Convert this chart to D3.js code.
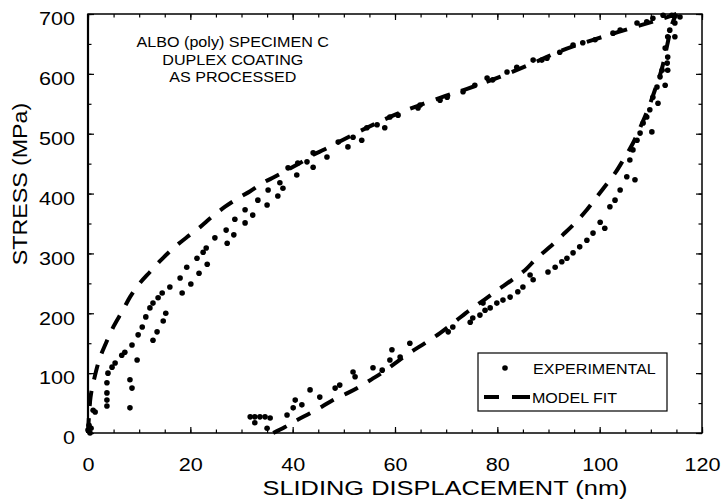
<!DOCTYPE html>
<html>
<head>
<meta charset="utf-8">
<script src="https://cdnjs.cloudflare.com/ajax/libs/d3/7.8.5/d3.min.js"></script>
<style>
  body { margin: 0; background: #fff; }
  svg { display: block; font-family: "Liberation Sans", Arial, sans-serif; }
</style>
</head>
<body>
<svg width="721" height="499"></svg>
<script>
// experimental points [displacement nm, stress MPa], loading branch
let expLoading = [
  [0, 5], [0.2, 13], [0.4, 0], [0.6, 8], [1.0, 38], [1.4, 35],
  [3.7, 84], [3.7, 67], [3.7, 55], [3.7, 45], [3.9, 100], [4.7, 110], [5.3, 117],
  [6.6, 130], [7.2, 135], [8.6, 147], [9.8, 164], [10.6, 177], [11.3, 194],
  [12.1, 209], [12.7, 217], [13.7, 226], [14.5, 234], [16.0, 244], [18.0, 259],
  [19.3, 277], [21.3, 292], [22.5, 302], [23.1, 309], [24.8, 326], [27.0, 339],
  [28.7, 357], [30.7, 373], [33.2, 389], [35.2, 406], [37.5, 418], [39.1, 443],
  [41.0, 451], [44.0, 468], [48.9, 486], [51.8, 494], [54.5, 510], [56.5, 515],
  [59.0, 528], [60.6, 531], [64.5, 543], [68.8, 556], [70.2, 561], [73.3, 570],
  [75.6, 581], [78.0, 593], [81.9, 603], [83.8, 611], [87.0, 623], [89.7, 626],
  [92.2, 636], [94.8, 648], [96.7, 652], [99.1, 657], [102.6, 668], [104.0, 673],
  [107.3, 685], [109.2, 687], [110.4, 693], [112.4, 698], [114.1, 698], [115.7, 695],
  // second (lower) row of the loading points
  [8.2, 89], [8.6, 75], [8.2, 42], [9.6, 122], [12.7, 155], [13.5, 169], [14.7, 187],
  [15.2, 200], [18.4, 234], [20.1, 249], [21.7, 267], [23.3, 282], [27.2, 317],
  [28.5, 331], [30.7, 351], [32.2, 364], [35.0, 381], [37.1, 396], [38.1, 409],
  [40.8, 431], [42.8, 453], [44.0, 444], [46.7, 461], [50.8, 478], [53.5, 489],
  [58.0, 510], [64.9, 548], [79.1, 590], [88.7, 623]
];

// experimental points, unloading branch
let expUnloading = [
  [114.7, 685], [113.7, 673], [113.3, 662], [114.7, 662], [112.8, 643], [113.3, 628],
  [113.2, 618], [112.2, 606], [113.3, 606], [111.8, 595], [111.2, 578], [112.8, 581],
  [110.4, 561], [111.4, 551], [109.8, 540], [109.2, 528], [110.2, 503], [108.5, 518],
  [107.9, 501], [107.3, 489], [106.5, 473], [105.9, 456], [106.9, 423], [105.3, 428],
  [104.0, 406], [103.0, 389], [102.0, 378], [101.0, 342], [100.1, 352], [98.7, 334],
  [97.5, 322], [96.1, 311], [94.8, 301], [93.6, 292], [92.6, 286], [91.3, 277],
  [89.9, 269], [87.0, 256], [86.4, 264], [85.0, 244], [84.0, 236], [82.5, 227],
  [81.1, 222], [79.9, 217], [78.6, 209], [77.6, 205], [77.2, 217], [76.6, 197],
  [75.2, 192], [74.7, 185], [71.3, 177], [70.4, 169], [62.9, 150], [61.0, 127],
  [59.4, 139], [59.0, 122], [57.5, 105], [55.7, 109], [51.8, 102], [52.2, 94],
  [49.2, 80], [48.3, 75], [45.3, 60], [43.4, 72], [41.8, 47], [40.5, 55],
  [40.1, 42], [38.9, 30], [35.0, 8],
  [31.7, 27], [32.6, 27], [33.6, 27], [34.6, 27], [35.6, 25], [32.6, 17]
];

// model fit curves
let fitLoading = [
  [0, 0], [0.5, 60], [1.2, 90], [2.3, 125], [3.5, 150], [5.0, 178], [6.8, 205],
  [8.2, 227], [9.8, 247], [12.1, 269], [14.5, 291], [17.0, 311], [19.3, 327],
  [21.9, 344], [24.2, 361], [26.8, 378], [29.1, 391], [31.7, 404], [34.2, 418],
  [36.5, 428], [38.9, 439], [41.4, 451], [43.8, 464], [46.3, 474], [49.2, 487],
  [54.5, 510], [60.4, 533], [68.8, 560], [74.1, 575], [80.5, 595], [87.0, 618],
  [91.7, 636], [94.8, 646], [101.4, 664], [107.9, 681], [111.8, 691], [115, 700]
];

let fitUnloading = [
  [36.2, 0], [38.5, 10], [40.5, 20], [43.4, 33], [45.7, 44], [47.9, 55], [50.8, 67],
  [53.2, 78], [55.5, 90], [57.7, 102], [60.4, 119], [62.9, 134], [66.2, 152],
  [68.8, 167], [71.7, 186], [74.7, 206], [77.5, 223], [80.1, 239], [82.9, 256],
  [85.4, 272], [87.7, 292], [90.3, 311], [92.8, 331], [95.2, 351], [97.5, 373],
  [99.4, 394], [101.2, 414], [103.0, 434], [104.6, 456], [106.5, 484], [107.9, 510],
  [109.4, 540], [110.8, 573], [112.2, 610], [113.2, 648], [114.1, 682], [115, 700]
];

let xTicks = [0, 20, 40, 60, 80, 100, 120];
let yTicks = [0, 100, 200, 300, 400, 500, 600, 700];
let noteLines = ["ALBO (poly) SPECIMEN C", "DUPLEX COATING", "AS PROCESSED"];
let legendLabels = ["EXPERIMENTAL", "MODEL FIT"];

var svg = d3.select("svg");
var margin = {top: 14, right: 19, bottom: 66, left: 88};
var width = 721 - margin.left - margin.right;
var height = 499 - margin.top - margin.bottom;

var x = d3.scaleLinear().domain([0, 120]).range([0, width]);
var y = d3.scaleLinear().domain([0, 700]).range([height, 0]);

var g = svg.append("g").attr("transform", "translate(" + margin.left + "," + margin.top + ")");

// stretch text horizontally, the figure's lettering is wider than Arial
function stretch(sel, k) {
  sel.each(function() {
    var len = this.getComputedTextLength();
    d3.select(this).attr("textLength", len * k).attr("lengthAdjust", "spacingAndGlyphs");
  });
}

var minorX = d3.range(0, 121, 5);
var minorY = d3.range(0, 701, 50);

function tickAxis(axis, tr) {
  var a = g.append("g").attr("transform", tr).call(axis);
  a.select(".domain").remove();
  a.selectAll("line").attr("stroke", "#000").attr("stroke-width", 1.2);
  return a;
}

tickAxis(d3.axisBottom(x).tickValues(minorX).tickSize(-3.5).tickFormat(""), "translate(0," + height + ")");
tickAxis(d3.axisTop(x).tickValues(minorX).tickSize(-3.5).tickFormat(""), "translate(0,0)");
tickAxis(d3.axisLeft(y).tickValues(minorY).tickSize(-3.5).tickFormat(""), "translate(0,0)");
tickAxis(d3.axisRight(y).tickValues(minorY).tickSize(-3.5).tickFormat(""), "translate(" + width + ",0)");
tickAxis(d3.axisTop(x).tickValues(xTicks).tickSize(-6).tickFormat(""), "translate(0,0)");
tickAxis(d3.axisRight(y).tickValues(yTicks).tickSize(-6).tickFormat(""), "translate(" + width + ",0)");

var xa = tickAxis(d3.axisBottom(x).tickValues(xTicks).tickSize(-6).tickPadding(25), "translate(0," + height + ")");
xa.selectAll("text").attr("font-size", 18).attr("fill", "#000").attr("font-family", "Liberation Sans, Arial, sans-serif");
var ya = tickAxis(d3.axisLeft(y).tickValues(yTicks).tickSize(-6).tickPadding(13), "translate(0,0)");
ya.selectAll("text").attr("font-size", 18).attr("fill", "#000").attr("dy", "0.6em").attr("font-family", "Liberation Sans, Arial, sans-serif");
stretch(xa.selectAll("text"), 1.2);
stretch(ya.selectAll("text"), 1.2);

// frame
g.append("rect")
  .attr("width", width)
  .attr("height", height)
  .attr("fill", "none")
  .attr("stroke", "#000")
  .attr("stroke-width", 1.5);
g.append("line")
  .attr("x1", 0).attr("x2", 0).attr("y1", 0).attr("y2", height)
  .attr("stroke", "#000").attr("stroke-width", 2.2);

// model fit
var line = d3.line().x(d => x(d[0])).y(d => y(d[1])).curve(d3.curveCatmullRom);
[fitLoading, fitUnloading].forEach(function(c) {
  g.append("path")
    .attr("d", line(c))
    .attr("fill", "none")
    .attr("stroke", "#000")
    .attr("stroke-width", 4)
    .attr("stroke-dasharray", "15,12");
});

// experimental points
g.selectAll(".dot")
  .data(expLoading.concat(expUnloading))
  .enter().append("circle")
    .attr("class", "dot")
    .attr("cx", d => x(d[0]))
    .attr("cy", d => y(d[1]))
    .attr("r", 2.8)
    .attr("fill", "#000");

// note top left
var note = g.append("g");
note.selectAll("text")
  .data(noteLines)
  .enter().append("text")
    .attr("x", x(28.3))
    .attr("y", (d, i) => 33 + i * 17.5)
    .attr("text-anchor", "middle")
    .attr("font-size", 14)
    .text(d => d);
stretch(note.selectAll("text"), 1.15);

// legend
var lg = svg.append("g").attr("transform", "translate(478,353)");
lg.append("rect")
  .attr("width", 189)
  .attr("height", 58)
  .attr("fill", "#fff")
  .attr("stroke", "#000")
  .attr("stroke-width", 1.2);
lg.append("circle").attr("cx", 27).attr("cy", 15).attr("r", 2.8).attr("fill", "#000");
lg.append("line")
  .attr("x1", 6).attr("x2", 52).attr("y1", 44).attr("y2", 44)
  .attr("stroke", "#000").attr("stroke-width", 4).attr("stroke-dasharray", "15,13,18");
var lt = lg.selectAll(".lt")
  .data(legendLabels)
  .enter().append("text")
    .attr("class", "lt")
    .attr("x", (d, i) => i == 0 ? 55 : 54)
    .attr("y", (d, i) => 21 + i * 29)
    .attr("font-size", 15)
    .text(d => d);
stretch(lt, 1.07);

// axis titles
var xt = svg.append("text")
  .attr("x", 445)
  .attr("y", 495)
  .attr("text-anchor", "middle")
  .attr("font-size", 20)
  .text("SLIDING DISPLACEMENT (nm)");
stretch(xt, 1.27);

var yt = svg.append("text")
  .attr("transform", "translate(27,184) rotate(-90)")
  .attr("text-anchor", "middle")
  .attr("font-size", 20)
  .text("STRESS (MPa)");
stretch(yt, 1.16);
</script>
</body>
</html>
